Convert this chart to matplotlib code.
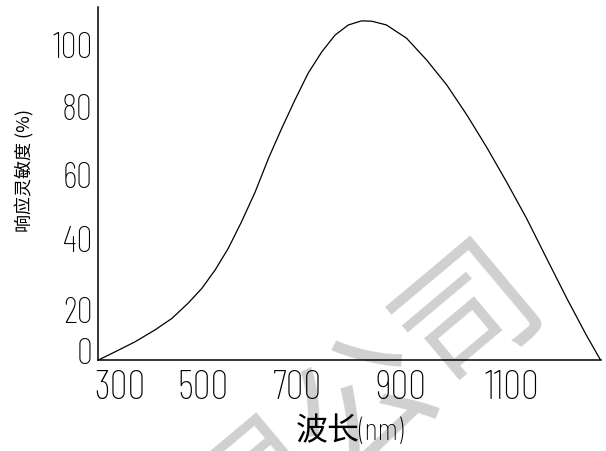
import matplotlib
matplotlib.use("Agg")
import matplotlib.pyplot as plt

# ---- data ----
wavelength_nm = [256, 290, 331, 371, 406, 439, 467, 494, 521, 548, 576, 603, 630, 657,
                 684, 712, 739, 766, 793, 814, 844, 885, 926, 967, 1008, 1048, 1089,
                 1130, 1171, 1212, 1252, 1281]
response_pct = [0.0, 2.6, 5.8, 9.5, 13.2, 18.0, 22.7, 28.5, 35.4, 43.8, 53.3, 63.9, 73.4,
                82.4, 90.9, 97.7, 103.0, 106.2, 107.5, 107.4, 106.2, 102.0, 95.1, 87.2,
                77.7, 67.6, 56.5, 44.9, 32.2, 19.6, 7.9, 0.0]

x_tick_labels = ["300", "500", "700", "900", "1100"]
y_tick_labels = ["0", "20", "40", "60", "80", "100"]
x_label = "波长(nm)"
y_label = "响应灵敏度 (%)"
watermark = "限公司"

# ---- layout ----
W, H = 606, 451
x_tick_pos = [300, 469, 663, 873, 1100]
y_tick_pos = [2.9, 16.0, 38.2, 58.8, 80.2, 100.0]

num_font = "Barlow Condensed"

fig = plt.figure(figsize=(W / 100, H / 100), dpi=100)
fig.patch.set_facecolor("white")

# watermark behind the axes
fig.text(365 / W, 1 - 404 / H, watermark, rotation=40, rotation_mode="anchor",
         ha="center", va="center", fontsize=100, fontweight="medium", color="#d0d0d0",
         family=["Noto Sans CJK SC"], zorder=-5)

ax = fig.add_axes([98 / W, (H - 360) / H, (601 - 98) / W, (360 - 7) / H])
ax.set_facecolor("none")

ax.plot(wavelength_nm, response_pct, color="black", lw=0.9,
        solid_capstyle="round", solid_joinstyle="round")

ax.set_xlim(255, 1282)
ax.set_ylim(0, 111.9)

for s in ["top", "right"]:
    ax.spines[s].set_visible(False)
for s in ["left", "bottom"]:
    ax.spines[s].set_linewidth(1.1)
    ax.spines[s].set_color("black")

ax.set_xticks(x_tick_pos)
ax.set_xticklabels(x_tick_labels, family=num_font, fontsize=29, fontweight=250)
ax.set_yticks(y_tick_pos)
ax.set_yticklabels(y_tick_labels, family=num_font, fontsize=26, fontweight=250)
ax.tick_params(axis="x", length=0, pad=7)
ax.tick_params(axis="y", length=0, pad=4)

fig.text(349.5 / W, 1 - 431 / H, x_label, ha="center", va="center",
         fontsize=23, fontweight=250, family=[num_font, "Noto Sans CJK SC"])
fig.text(24 / W, 1 - 170 / H, y_label, ha="center", va="center", rotation=90,
         fontsize=13, family=["Noto Sans CJK SC", "DejaVu Sans"])

fig.savefig("out.png", dpi=100, facecolor="white")
